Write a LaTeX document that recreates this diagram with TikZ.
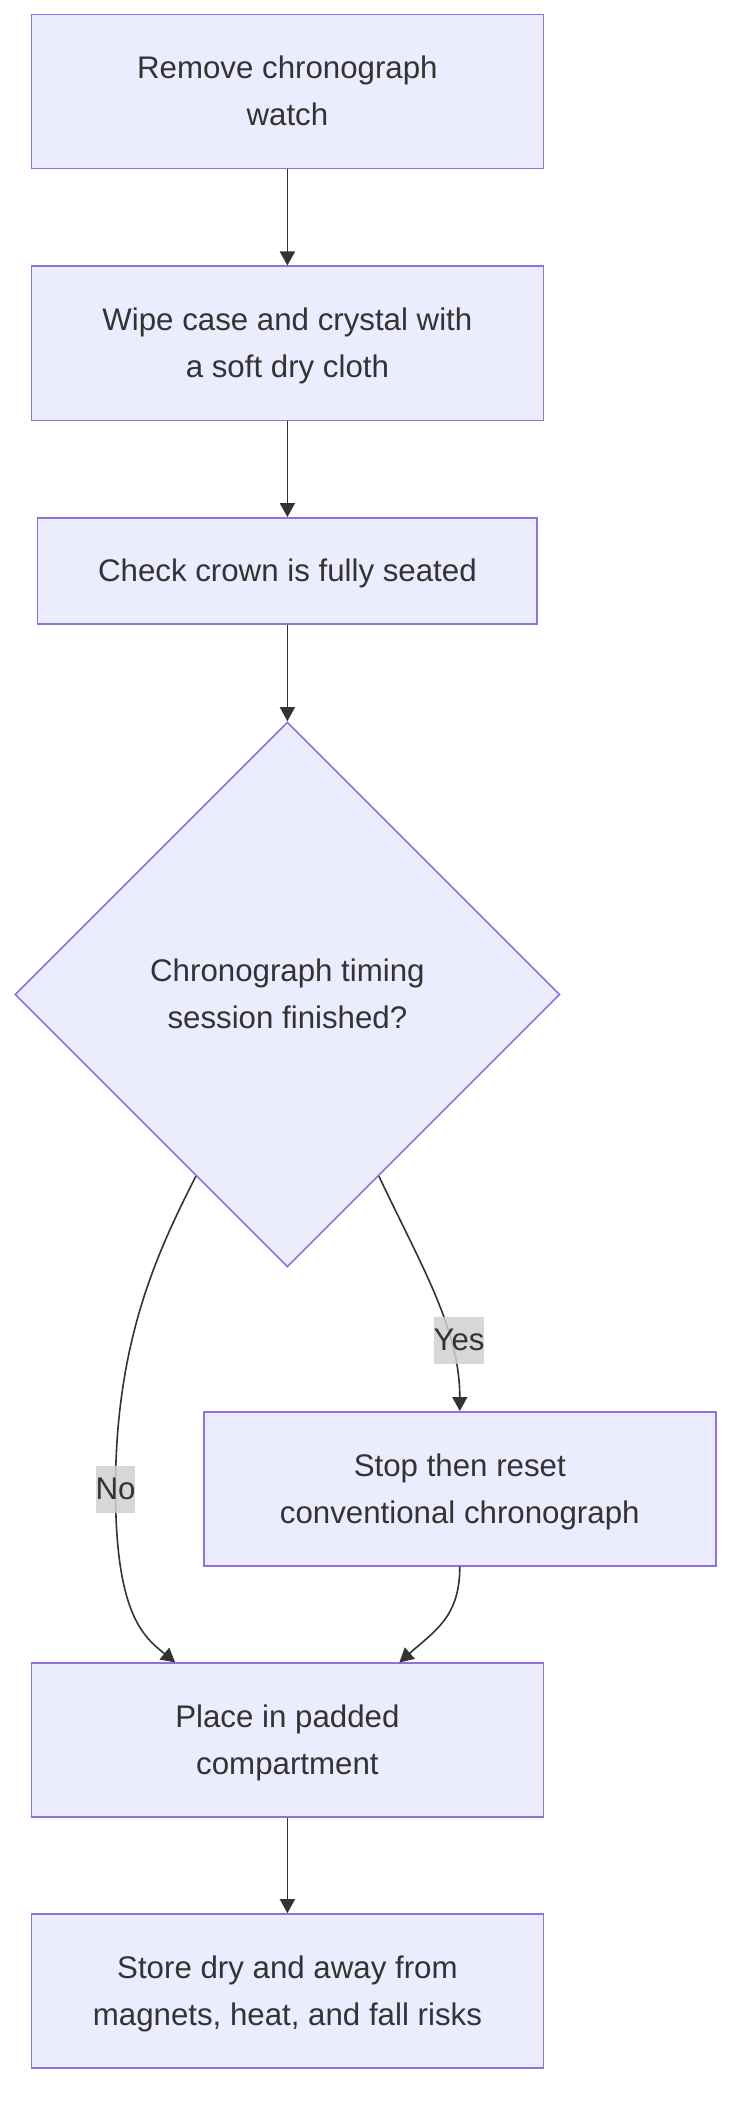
\documentclass[tikz,border=0pt]{standalone}
\usepackage{fontspec}
\setmainfont{Liberation Sans}
\usetikzlibrary{shapes.geometric,arrows.meta,calc}
\definecolor{nodefill}{HTML}{ECECFF}
\definecolor{nodeborder}{HTML}{9370DB}
\definecolor{inkcol}{HTML}{333333}
\definecolor{labelfill}{HTML}{D0D0D0}
\newcommand\lnstrut{\rule[-12.8pt]{0pt}{47pt}}
\begin{document}
\begin{tikzpicture}[x=1pt,y=-1pt,
  txt/.style={text=inkcol, font=\fontsize{31.25pt}{47pt}\selectfont},
  box/.style={txt, rectangle, draw=nodeborder, fill=nodefill, line width=1.6pt,
    minimum width=512pt, minimum height=154pt, align=center, inner sep=0pt},
  dec/.style={txt, diamond, draw=nodeborder, fill=nodefill, line width=1.6pt,
    minimum width=545pt, minimum height=545pt, align=center, inner sep=0pt},
  flow/.style={draw=inkcol, line width=1.6pt, -{Triangle[length=14pt,width=15pt]}},
  elabel/.style={txt, fill=labelfill, fill opacity=0.85, text opacity=1, inner sep=0pt}]
\useasboundingbox (0,0) rectangle (746,2124);

\node[box] (b1) at (287.4,91.7) {Remove chronograph\lnstrut\\watch\lnstrut};
\node[box] (b2) at (287.4,343.3) {Wipe case and crystal with\lnstrut\\a soft dry cloth\lnstrut};
\node[box, minimum width=499.5pt, minimum height=105.8pt] (b3) at (287.4,570.8) {Check crown is fully seated\lnstrut};
\node[dec] (d) at (287.4,994.5) {Chronograph timing\lnstrut\\session finished?\lnstrut};
\node[box] (stop) at (459.8,1488.8) {Stop then reset\lnstrut\\conventional chronograph\lnstrut};
\node[box] (place) at (287.4,1740.2) {Place in padded\lnstrut\\compartment\lnstrut};
\node[box] (store) at (287.4,1991) {Store dry and away from\lnstrut\\magnets, heat, and fall risks\lnstrut};

\coordinate (nopt) at (115.5,1489);
\coordinate (yespt) at (459,1340);

\draw[flow] (b1) -- (b2);
\draw[flow] (b2) -- (b3);
\draw[flow] (b3) -- (d);
\draw[flow] ($(d.south west)!0.33!(d.south)$) .. controls +(-37,73) and +(0,-150) .. (nopt)
  .. controls +(0,125) and +(-32,-26) .. ([xshift=-112.2pt]place.north);
\draw[flow] ($(d.south east)!0.33!(d.south)$) .. controls +(42,89) and +(0,-82) .. (stop.north);
\draw[flow] (stop.south) .. controls +(0,50) and +(36,-32) .. ([xshift=112pt]place.north);
\draw[flow] (place) -- (store);

\node[elabel] (nolab) at (nopt) {No\lnstrut};
\node[elabel] (yeslab) at (yespt) {Yes\lnstrut};
\end{tikzpicture}
\end{document}
